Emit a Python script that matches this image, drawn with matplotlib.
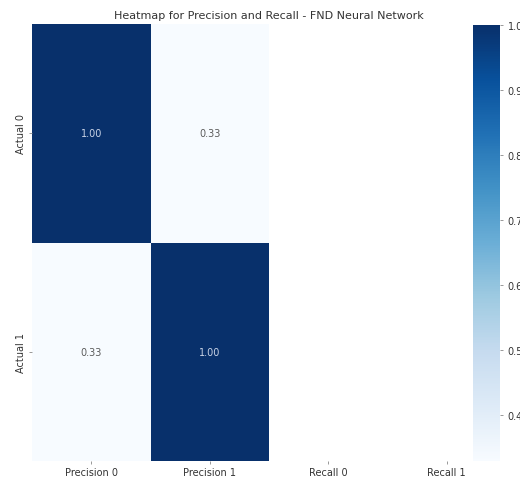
import numpy as np
import matplotlib.pyplot as plt

row_labels = ['Actual 0', 'Actual 1']
col_labels = ['Precision 0', 'Precision 1', 'Recall 0', 'Recall 1']
precision_0 = [1.00, 0.33]
precision_1 = [0.33, 1.00]
recall_0 = [np.nan, np.nan]
recall_1 = [np.nan, np.nan]

values = np.array([precision_0, precision_1, recall_0, recall_1]).T
vmin = np.nanmin(values)
vmax = np.nanmax(values)

fig = plt.figure(figsize=(5.2, 4.81), dpi=100)
ax = fig.add_axes([32 / 520, 1 - 462 / 481, 474 / 520, 437 / 481])
cax = fig.add_axes([473 / 520, 1 - 462 / 481, 27 / 520, 436 / 481])

cmap = plt.get_cmap('Blues')
masked = np.ma.masked_invalid(values)
mesh = ax.pcolormesh(masked, cmap=cmap, vmin=vmin, vmax=vmax)
ax.set_xlim(0, values.shape[1])
ax.set_ylim(values.shape[0], 0)
for s in ax.spines.values():
    s.set_visible(False)

for i in range(values.shape[0]):
    for j in range(values.shape[1]):
        v = values[i, j]
        if np.isnan(v):
            continue
        c = '#c9d3e6' if v > 0.7 else '#5a5a5a'
        ax.text(j + 0.5, i + 0.5, f'{v:.2f}', ha='center', va='center',
                fontsize=7, color=c)

ax.set_xticks(np.arange(len(col_labels)) + 0.5)
ax.set_xticklabels(col_labels, fontsize=7, color='#333333')
ax.set_yticks(np.arange(len(row_labels)) + 0.5)
ax.set_yticklabels(row_labels, fontsize=7, rotation=90, va='center', color='#333333')
ax.tick_params(length=2, width=0.6, pad=2, colors='#888888', labelcolor='#333333')
ax.set_title('Heatmap for Precision and Recall - FND Neural Network',
             fontsize=8, color='#333333', pad=4)

cb = fig.colorbar(mesh, cax=cax)
cb.outline.set_visible(False)
cb.set_ticks([0.4, 0.5, 0.6, 0.7, 0.8, 0.9, 1.0])
cb.ax.tick_params(labelsize=7, length=2, width=0.6, colors='#888888', labelcolor='#333333')

fig.savefig('out.png', dpi=100)
